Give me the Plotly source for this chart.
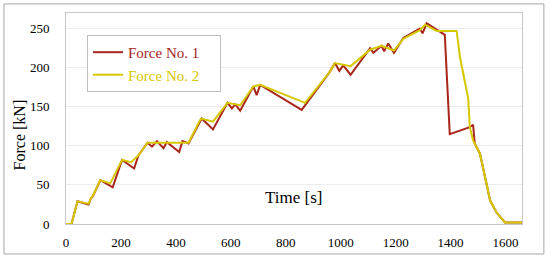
import plotly.graph_objects as go

# Force No. 1 (time in s, force in kN)
t1 = [0, 20, 42, 82, 91, 97, 125, 170, 204, 248, 264, 297, 313, 331, 355, 367, 412, 424, 446,
      494, 535, 588, 604, 616, 634, 682, 694, 707, 858, 961, 979, 995, 1009, 1036, 1107, 1119,
      1149, 1158, 1173, 1194, 1228, 1288, 1298, 1313, 1379, 1397, 1470, 1482, 1488, 1507, 1544,
      1567, 1598, 1664]
f1 = [0, 0, 29, 25, 33, 35, 56, 47, 82, 71, 88, 104, 99, 106, 97, 105, 92, 106, 103,
      135, 121, 155, 148, 153, 145, 176, 165, 178, 146, 195, 206, 196, 203, 191, 225, 219,
      228, 221, 231, 219, 238, 250, 244, 257, 242, 115, 124, 127, 103, 90, 30,
      15, 2, 2]

# Force No. 2
t2 = [0, 20, 42, 82, 91, 97, 125, 161, 204, 237, 264, 297, 446, 488, 494, 535, 588, 634,
      682, 707, 870, 961, 979, 1036, 1107, 1149, 1194, 1228, 1288, 1307, 1349, 1422, 1434,
      1464, 1470, 1482, 1507, 1544, 1567, 1598, 1664]
f2 = [0, 0, 29, 26, 33, 36, 56, 52, 82, 79, 88, 104, 104, 133, 135, 131, 155, 152,
      176, 178, 155, 195, 206, 202, 223, 228, 222, 237, 248, 255, 247, 247, 214,
      161, 124, 107, 90, 30, 15, 2, 2]

red = "#A8261A"
yellow = "#D6C800"
font = "Liberation Serif"
pad = "<span style='color:white'>__</span>"  # keeps the legend box as wide as the original

fig = go.Figure()
fig.add_trace(go.Scatter(x=t1, y=f1, mode="lines", line=dict(color=red, width=2),
                         name="<span style='color:%s'>Force No. 1</span>%s" % (red, pad)))
fig.add_trace(go.Scatter(x=t2, y=f2, mode="lines", line=dict(color=yellow, width=2),
                         name="<span style='color:%s'>Force No. 2</span>%s" % (yellow, pad)))

fig.update_layout(
    width=550, height=257,
    margin=dict(l=66, r=28, t=13, b=33),
    paper_bgcolor="white", plot_bgcolor="white",
    font=dict(family=font, size=13, color="black"),
    showlegend=True,
    legend=dict(x=0.046, y=0.896, xanchor="left", yanchor="top",
                bgcolor="white", bordercolor="#bfbfbf", borderwidth=1,
                font=dict(size=15), tracegroupgap=0),
)
fig.update_xaxes(range=[0, 1660], tickvals=[0, 200, 400, 600, 800, 1000, 1200, 1400, 1600],
                 showgrid=False, zeroline=False, showline=True, linecolor="#c8c8c8",
                 mirror=True, ticks="", ticklabelstandoff=6, automargin=False)
fig.update_yaxes(range=[0, 270], tickvals=[0, 50, 100, 150, 200, 250],
                 showgrid=True, gridcolor="#ececec", zeroline=False, showline=True,
                 linecolor="#c8c8c8", mirror=True, ticks="", ticklabelstandoff=13,
                 automargin=False)

fig.add_annotation(text="Time [s]", xref="paper", yref="paper", x=0.498, y=0.071,
                   showarrow=False, font=dict(size=17))
fig.add_annotation(text="Force [kN]", xref="paper", yref="paper", x=-0.103, y=0.42,
                   xanchor="center", yanchor="middle",
                   textangle=-90, showarrow=False, font=dict(size=16))

# outer frame around the whole chart
fig.add_shape(type="rect", xref="paper", yref="paper", x0=-0.136, x1=1.048, y0=-0.142, y1=1.043,
              line=dict(color="#a6a6a6", width=1))

# drop the browser's default body margin so the figure sits at the window corner
fig.write_html("out.html", config={"displayModeBar": False},
               post_script="document.body.style.margin='0';")
